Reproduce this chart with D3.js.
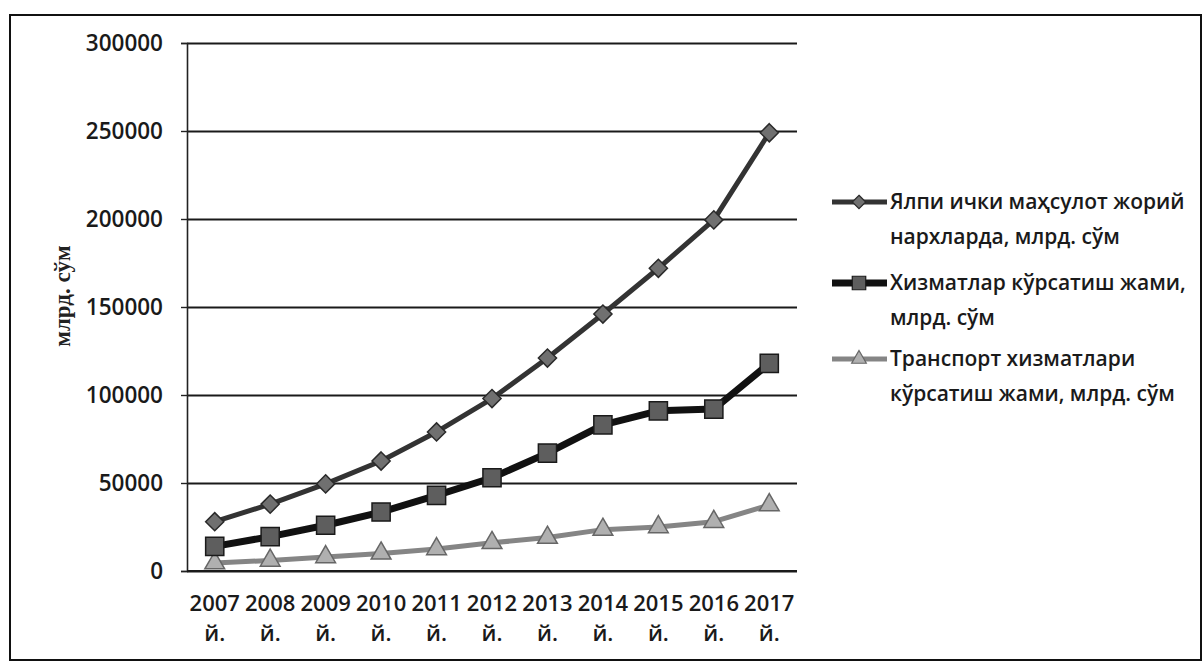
<!DOCTYPE html>
<html>
<head>
<meta charset="utf-8">
<script src="https://cdn.jsdelivr.net/npm/d3@7"></script>
<style>
  body { margin: 0; background: #fff; }
  svg { display: block; }
  .tick text { font-family: "Open Sans", sans-serif; font-weight: 600; fill: #1a1a1a; }
</style>
</head>
<body>
<svg id="chart" width="1204" height="671"></svg>
<script>
// ---------- data
const years = ["2007", "2008", "2009", "2010", "2011", "2012", "2013", "2014", "2015", "2016", "2017"];
const yearSuffix = "й.";
const gdp = [28000, 38000, 49500, 62500, 79000, 98000, 121000, 146000, 172000, 199500, 249000];
const services = [14000, 19500, 26000, 33500, 43000, 53000, 67000, 83000, 91000, 92000, 118000];
const transport = [4500, 6000, 8000, 10000, 12500, 16000, 19000, 23500, 25000, 28000, 37500];
const yTicks = [0, 50000, 100000, 150000, 200000, 250000, 300000];
const yTitle = "млрд. сўм";
const legendNames = [
  ["Ялпи ички маҳсулот жорий", "нархларда, млрд. сўм"],
  ["Хизматлар кўрсатиш жами,", "млрд. сўм"],
  ["Транспорт хизматлари", "кўрсатиш жами, млрд. сўм"]
];

// ---------- layout
let svg = d3.select("#chart");
let plot = {left: 187, right: 797, top: 43, bottom: 571};

// outer frame
svg.append("rect")
  .attr("x", 10).attr("y", 15)
  .attr("width", 1191).attr("height", 645)
  .attr("fill", "none").attr("stroke", "#111").attr("stroke-width", 2);

let x = d3.scaleBand().domain(years).range([plot.left, plot.right]);
let y = d3.scaleLinear().domain([0, 300000]).range([plot.bottom, plot.top]);

// gridlines
svg.append("g")
  .attr("transform", "translate(" + plot.left + ",0)")
  .call(d3.axisLeft(y).tickValues(yTicks).tickSize(-(plot.right - plot.left)).tickFormat(""))
  .call(g => g.select(".domain").remove())
  .call(g => g.selectAll("line").attr("stroke", "#1a1a1a").attr("stroke-width", 1.8));

// y axis
svg.append("g")
  .attr("transform", "translate(" + plot.left + ",0)")
  .call(d3.axisLeft(y).tickValues(yTicks).tickSize(6).tickPadding(18).tickFormat(d3.format("d")))
  .call(g => g.select(".domain").attr("stroke", "#222").attr("stroke-width", 1.6))
  .call(g => g.selectAll("line").attr("stroke", "#222").attr("stroke-width", 1.4))
  .call(g => g.selectAll("text").style("font-size", "22.5px"));

// x axis
let xAxis = svg.append("g")
  .attr("transform", "translate(0," + plot.bottom + ")")
  .call(d3.axisBottom(x).tickSize(0).tickPadding(0).tickFormat(""));
xAxis.select(".domain").attr("d", "M" + plot.left + ",0H" + plot.right)
  .attr("stroke", "#1a1a1a").attr("stroke-width", 2);
xAxis.selectAll(".tick").each(function(d) {
  let t = d3.select(this).append("text")
    .attr("text-anchor", "middle")
    .style("font-size", "22px");
  t.append("tspan").attr("x", 0).attr("y", 40).text(d);
  t.append("tspan").attr("x", 0).attr("y", 70).text(yearSuffix);
});

// y title
svg.append("text")
  .attr("transform", "translate(70,296) rotate(-90)")
  .attr("text-anchor", "middle")
  .style("font-family", "'Liberation Serif', serif")
  .style("font-weight", "bold")
  .style("font-size", "23px")
  .attr("fill", "#222")
  .text(yTitle);

// ---------- series
let series = [
  {values: gdp, line: "#333", width: 5, symbol: d3.symbolDiamond2, size: 210, fill: "#707070", stroke: "#2a2a2a"},
  {values: services, line: "#111", width: 7, symbol: d3.symbolSquare2, size: 420, fill: "#5e5e5e", stroke: "#1a1a1a"},
  {values: transport, line: "#858585", width: 5, symbol: d3.symbolTriangle2, size: 280, fill: "#b0b0b0", stroke: "#666"}
];

let line = d3.line()
  .x((d, i) => x(years[i]) + x.bandwidth() / 2)
  .y(d => y(d));

series.slice().reverse().forEach(s => {
  let g = svg.append("g");
  g.append("path")
    .datum(s.values)
    .attr("d", line)
    .attr("fill", "none")
    .attr("stroke", s.line)
    .attr("stroke-width", s.width)
    .attr("stroke-linejoin", "round");
  g.selectAll("path.pt")
    .data(s.values)
    .enter().append("path")
    .attr("class", "pt")
    .attr("transform", (d, i) => "translate(" + (x(years[i]) + x.bandwidth() / 2) + "," + y(d) + ")")
    .attr("d", d3.symbol().type(s.symbol).size(s.size))
    .attr("fill", s.fill)
    .attr("stroke", s.stroke)
    .attr("stroke-width", 1.5);
});

// ---------- legend
let legendY = [209, 290, 366];
series.forEach((s, i) => {
  let g = svg.append("g").attr("transform", "translate(0," + legendY[i] + ")");
  g.append("line")
    .attr("x1", 832).attr("x2", 887)
    .attr("y1", -7).attr("y2", -7)
    .attr("stroke", s.line).attr("stroke-width", s.width);
  g.append("path")
    .attr("transform", "translate(859,-7)")
    .attr("d", d3.symbol().type(s.symbol).size(s.size * 0.55))
    .attr("fill", s.fill).attr("stroke", s.stroke).attr("stroke-width", 1.2);
  let t = g.append("text")
    .style("font-family", "'Open Sans', sans-serif")
    .style("font-weight", "600")
    .style("font-size", "21px")
    .attr("fill", "#1a1a1a");
  legendNames[i].forEach((ln, j) => {
    t.append("tspan").attr("x", 890).attr("y", j * 35).text(ln);
  });
});
</script>
</body>
</html>
